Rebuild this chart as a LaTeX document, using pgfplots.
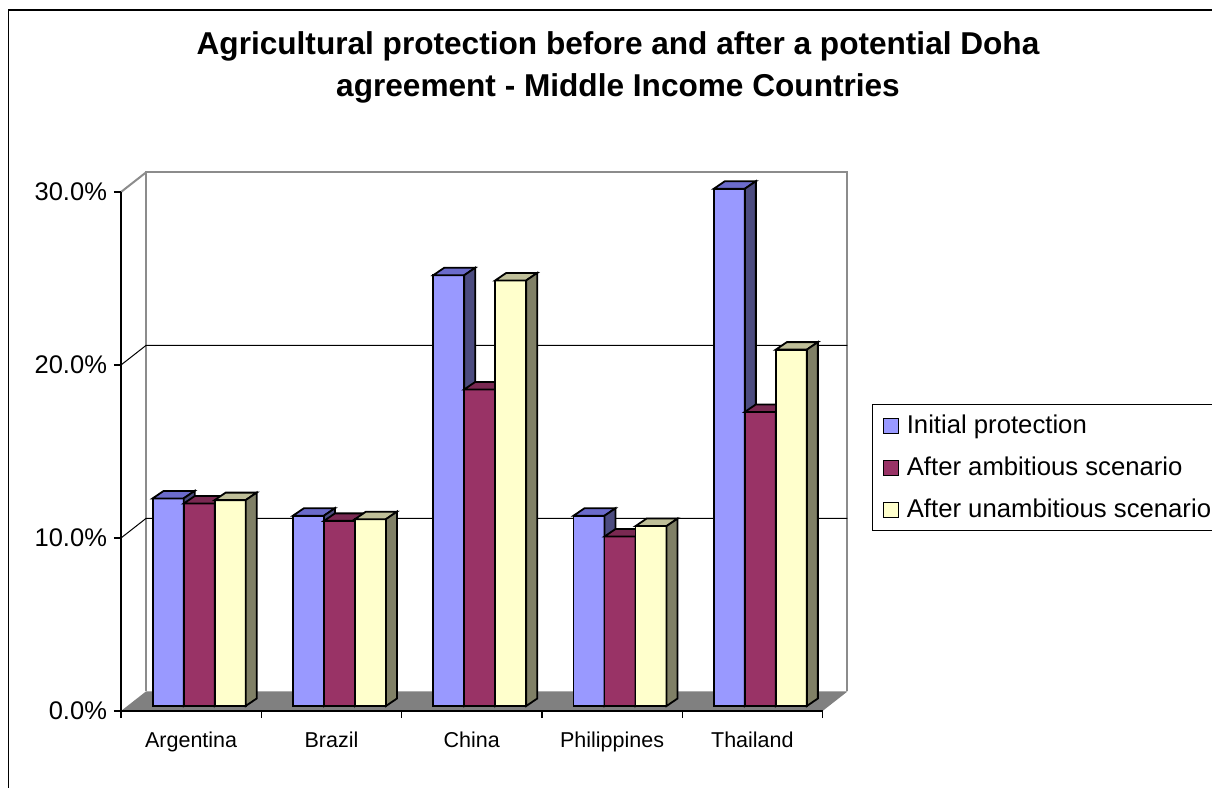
\documentclass[border=0pt]{standalone}
\usepackage{pgfplots}
\pgfplotsset{compat=1.18}
\usepackage{pgfplotstable}
\usepackage{fontspec}
\setmainfont{Liberation Sans}

% face colours of the three series: front, top, side
\definecolor{iniFront}{HTML}{9999FF}
\definecolor{iniTop}{HTML}{6B6BCB}
\definecolor{iniSide}{HTML}{4C4C80}
\definecolor{ambFront}{HTML}{993366}
\definecolor{ambTop}{HTML}{7A2952}
\definecolor{ambSide}{HTML}{4D1A33}
\definecolor{unaFront}{HTML}{FFFFCC}
\definecolor{unaTop}{HTML}{BFBF99}
\definecolor{unaSide}{HTML}{808066}
\definecolor{floorgray}{HTML}{808080}
\definecolor{wallgray}{HTML}{8C8C8C}

% agricultural protection (%), categories at 0..4
\pgfplotstableread{
cat  initial ambitious unambitious
0    12.0    11.7      11.9
1    11.0    10.7      10.8
2    24.9    18.3      24.6
3    11.0    9.8       10.4
4    29.9    17.0      20.6
}\protdata

\newcommand\yunit{8.65pt}
\pgfdeclareplotmark{void}{}

\pgfplotsset{
  % a 3-D bar drawn at each data point: x shift, front, top and side colours
  cuboid/.style n args={4}{%
    forget plot, only marks, mark=void, scatter,
    visualization depends on={rawy \as \barvalue},
    scatter/@pre marker code/.code={%
      \pgfmathsetlengthmacro\barH{\barvalue*\yunit}%
      \pgfmathsetlengthmacro\xl{#1-3.75pt}%   front left
      \pgfmathsetlengthmacro\xr{#1+11.75pt}%  front right
      \pgfmathsetlengthmacro\xbl{#1+1.75pt}%  back left
      \pgfmathsetlengthmacro\xbr{#1+17.25pt}% back right
      \pgfmathsetlengthmacro\yb{2.5pt-\barH}% front bottom
      \pgfmathsetlengthmacro\ybb{6.25pt-\barH}% back bottom
      \begin{scope}[draw=black, line width=0.9pt, line join=miter]
        \filldraw[fill=#2] (\xl,\yb) rectangle (\xr,2.5pt);
        \filldraw[fill=#3] (\xl,2.5pt) -- (\xr,2.5pt) -- (\xbr,6.25pt) -- (\xbl,6.25pt) -- cycle;
        \filldraw[fill=#4] (\xr,2.5pt) -- (\xbr,6.25pt) -- (\xbr,\ybb) -- (\xr,\yb) -- cycle;
      \end{scope}
    },
    scatter/@post marker code/.code={},
  },
  legsq/.style={legend image code/.code={%
      \draw[##1, draw=black, line width=0.6pt] (0pt,-3.75pt) rectangle (7.5pt,3.75pt);}},
}

\begin{document}
\begin{tikzpicture}
\useasboundingbox (0pt,0pt) rectangle (606pt,-394pt);
\clip (0pt,0pt) rectangle (606pt,-394pt);
\fill[white] (0pt,0pt) rectangle (606pt,-394pt);
\draw[line width=0.75pt] (4.25pt,-5pt) rectangle (640pt,-420pt);
\begin{axis}[
  at={(60.5pt,-355.5pt)}, anchor=south west,
  x=70.15pt, y=\yunit,
  xmin=-0.5, xmax=4.5, ymin=0, ymax=30,
  clip=false, axis on top,
  axis lines*=left,
  axis line style={black, line width=0.6pt},
  tick style={black, line width=0.6pt},
  tick align=outside, major tick length=3.5pt,
  ytick={0,10,20,30},
  yticklabel={\pgfmathprintnumber[fixed,fixed zerofill,precision=1]{\tick}\%},
  /pgf/number format/assume math mode=true,
  yticklabel style={font=\fontsize{12.75}{15}\selectfont},
  xtick={-0.5,0.5,...,4.5}, xticklabels={},
  extra x ticks={0,1,2,3,4},
  extra x tick labels={Argentina,Brazil,China,Philippines,Thailand},
  extra x tick style={major tick length=0pt},
  xticklabel style={font=\fontsize{10.75}{13}\selectfont, yshift=-7pt},
  title={Agricultural protection before and after a potential Doha\\agreement - Middle Income Countries},
  title style={at={(0.7085,1.287)}, anchor=north, align=center, inner sep=0pt,
    font=\bfseries\fontsize{15.8}{21.2}\selectfont},
  legend style={at={(1.0706,0.5915)}, anchor=north west, draw=black, line width=0.6pt,
    font=\fontsize{12.85}{15}\selectfont, inner xsep=5pt, inner ysep=0pt,
    row sep=0pt, column sep=4pt,
    nodes={inner xsep=0pt, inner ysep=0pt, text height=14.5pt, text depth=6.5pt},
    cells={anchor=west}},
]
% back wall, floor and grid
\addplot[forget plot, draw=wallgray, line width=1pt, fill=white]
  coordinates {(-0.322,1.13) (-0.322,31.13) (4.678,31.13) (4.678,1.13)};
\addplot[forget plot, fill=floorgray, draw=none]
  coordinates {(-0.5,0) (4.5,0) (4.678,1.13) (-0.322,1.13)} -- cycle;
\addplot[forget plot, black, line width=0.5pt] coordinates {(-0.5,10) (-0.322,11.13) (4.678,11.13)};
\addplot[forget plot, black, line width=0.5pt] coordinates {(-0.5,20) (-0.322,21.13) (4.678,21.13)};
\addplot[forget plot, wallgray, line width=1pt] coordinates {(-0.5,30) (-0.322,31.13)};

% bars
\addplot[cuboid={-15.5pt}{iniFront}{iniTop}{iniSide}] table[x=cat, y=initial] {\protdata};
\addplot[cuboid={0pt}{ambFront}{ambTop}{ambSide}] table[x=cat, y=ambitious] {\protdata};
\addplot[cuboid={15.5pt}{unaFront}{unaTop}{unaSide}] table[x=cat, y=unambitious] {\protdata};

\addlegendimage{legsq, fill=iniFront}
\addlegendentry{Initial protection}
\addlegendimage{legsq, fill=ambFront}
\addlegendentry{After ambitious scenario}
\addlegendimage{legsq, fill=unaFront}
\addlegendentry{After unambitious scenario}
\end{axis}
\end{tikzpicture}
\end{document}
